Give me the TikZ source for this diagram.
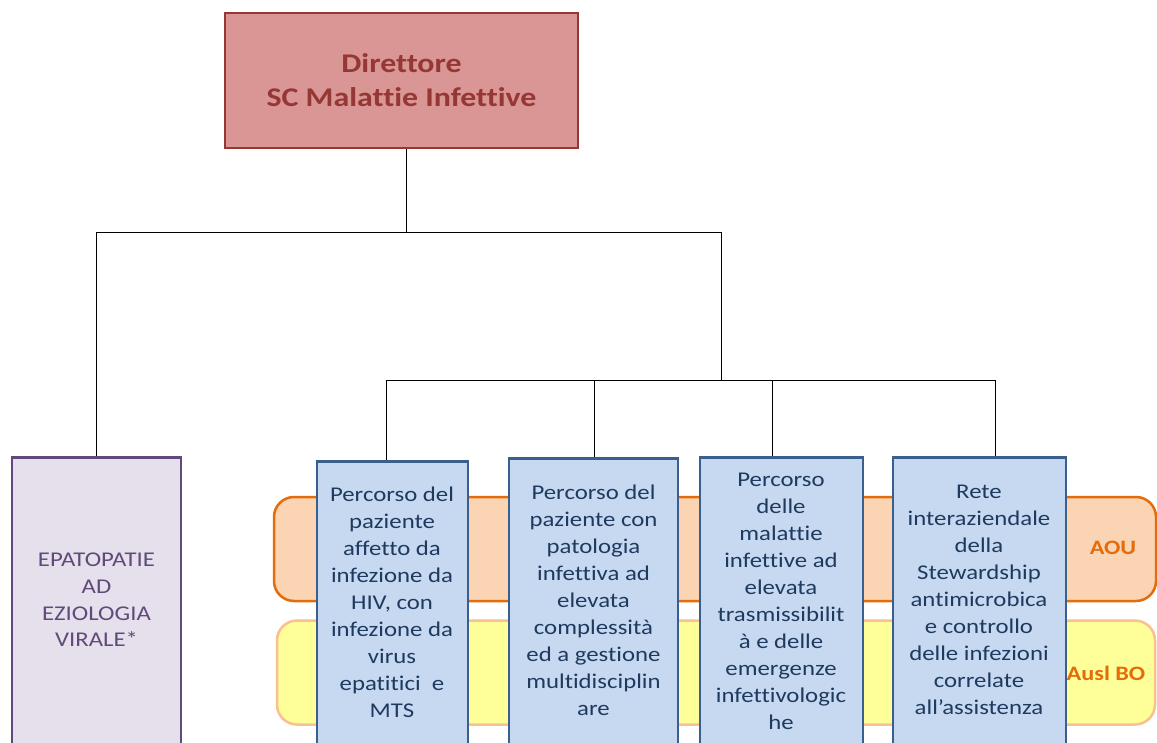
\documentclass[tikz,border=0pt]{standalone}
\usepackage{fontspec}
\newfontfamily\calfont[FakeStretch=1.18,Ligatures=NoCommon,RawFeature=-liga]{Carlito}
\definecolor{topfill}{HTML}{D99694}
\definecolor{topline}{HTML}{953735}
\definecolor{purfill}{HTML}{E5E0EC}
\definecolor{purline}{HTML}{604A7B}
\definecolor{orfill}{HTML}{FBD4B4}
\definecolor{orline}{HTML}{E46C0A}
\definecolor{yefill}{HTML}{FFFF99}
\definecolor{yeline}{HTML}{FAC090}
\definecolor{blfill}{HTML}{C6D9F1}
\definecolor{blline}{HTML}{3A5F8C}
\definecolor{bltext}{HTML}{1F3A5F}
\begin{document}
\begin{tikzpicture}[x=1pt,y=-1pt,
  conn/.style={draw=black,line width=0.9pt},
  topbox/.style={draw=topline,fill=topfill,line width=2.5pt,minimum width=353pt,minimum height=135pt,
    align=center,font=\calfont\fontsize{27}{34}\selectfont\bfseries,text=topline,inner sep=0pt},
  purbox/.style={draw=purline,fill=purfill,line width=2.5pt,minimum width=169pt,minimum height=310pt,anchor=north,inner sep=0pt},
  purtext/.style={align=center,font=\calfont\fontsize{21}{26.7}\selectfont,text=purline},
  band/.style={rounded corners=20pt,line width=2.5pt},
  bandtext/.style={font=\calfont\fontsize{20.5}{24}\selectfont\bfseries,text=orline},
  bluebox/.style={draw=blline,fill=blfill,line width=2.5pt,minimum height=310pt,anchor=north,inner sep=0pt},
  bluetext/.style={align=center,font=\calfont\fontsize{21}{27}\selectfont,text=bltext}]
\useasboundingbox (0,0) rectangle (1157,742);
\clip (0,0) rectangle (1157,742);
\fill[white] (0,0) rectangle (1157,742);
% bands
\node[band,draw=orline,fill=orfill,minimum width=882pt,minimum height=104pt,inner sep=0pt] (aou) at (715,549) {};
\node[band,draw=yeline,fill=yefill,minimum width=878pt,minimum height=104pt,inner sep=0pt] (ausl) at (716,672.5) {};
\node[bandtext] (aoutext) at (1113,548) {AOU};
\node[bandtext] (ausltext) at (1106,673) {Ausl BO};
% top
\node[topbox] (top) at (401.5,80.5) {Direttore\\SC Malattie Infettive};
% coordinates
\coordinate (j1) at (406,232);
\coordinate (jl) at (96,232);
\coordinate (jr) at (721,232);
\coordinate (k1) at (721,380);
\coordinate (kl) at (386,380);
\coordinate (kr) at (995,380);
\coordinate (k2) at (594,380);
\coordinate (k3) at (772,380);
% left box
\node[purbox] (epa) at (96.5,456) {};
\node[purtext] (epatext) at (96.5,600) {EPATOPATIE\\AD\\EZIOLOGIA\\VIRALE*};
% blue boxes
\node[bluebox,minimum width=151pt] (b1) at (392.5,460) {};
\node[bluebox,minimum width=169pt] (b2) at (593.5,457) {};
\node[bluebox,minimum width=163pt] (b3) at (781.5,456) {};
\node[bluebox,minimum width=173pt] (b4) at (979.5,456) {};
\node[bluetext] (t1) at (392,602) {Percorso del\\paziente\\affetto da\\infezione da\\HIV, con\\infezione da\\virus\\epatitici\ \ e\\MTS};
\node[bluetext] (t2) at (593.5,600) {Percorso del\\paziente con\\patologia\\infettiva ad\\elevata\\complessità\\ed a gestione\\multidisciplin\\are};
\node[bluetext] (t3) at (781,601) {Percorso\\delle\\malattie\\infettive ad\\elevata\\trasmissibilit\\à e delle\\emergenze\\infettivologic\\he};
\node[bluetext] (t4) at (979,600) {Rete\\interaziendale\\della\\Stewardship\\antimicrobica\\e controllo\\delle infezioni\\correlate\\all’assistenza};
% connectors
\draw[conn] (top.south -| j1) -- (j1);
\draw[conn] (jl) -- (jr);
\draw[conn] (jl) -- (epa.north -| jl);
\draw[conn] (jr) -- (k1);
\draw[conn] (kl) -- (kr);
\draw[conn] (kl) -- (b1.north -| kl);
\draw[conn] (k2) -- (b2.north -| k2);
\draw[conn] (k3) -- (b3.north -| k3);
\draw[conn] (kr) -- (b4.north -| kr);
\end{tikzpicture}
\end{document}
